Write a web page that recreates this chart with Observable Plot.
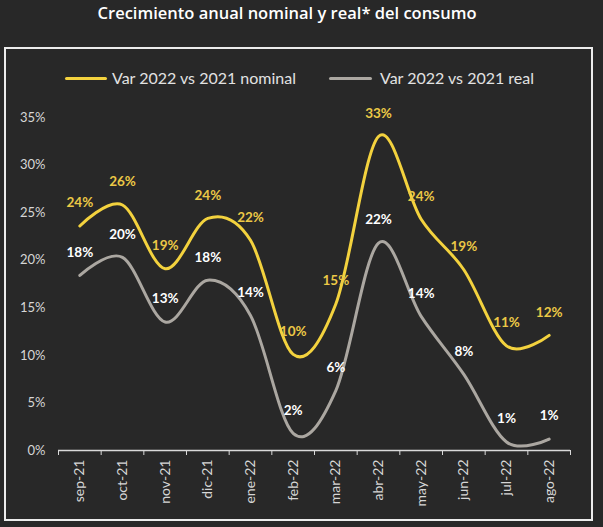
<!DOCTYPE html>
<html>
<head>
<meta charset="utf-8">
<script src="https://cdn.jsdelivr.net/npm/d3@7"></script>
<script src="https://cdn.jsdelivr.net/npm/@observablehq/plot@0.6"></script>
<style>
  html, body { margin: 0; padding: 0; background: #282828; width: 603px; height: 527px; overflow: hidden; }
  #title { position: absolute; left: 0; width: 574px; top: 1px; text-align: center; color: #ffffff;
           font-family: "Open Sans", sans-serif; font-weight: 600; font-size: 16.5px; }
  #frame { position: absolute; left: 4px; top: 47px; width: 585px; height: 470px; border: 2px solid #ececec; }
  .sw { position: absolute; height: 3px; border-radius: 2px; top: 77px; }
  .lt { position: absolute; top: 68px; font-family: Lato, sans-serif; font-size: 16px; color: #e2e2e2; white-space: nowrap; }
  #chart { position: absolute; left: 0; top: 95px; }
</style>
</head>
<body>
<div id="title">Crecimiento anual nominal y real* del consumo</div>
<div id="frame"></div>
<div class="sw" style="left:65px;width:42px;background:#f3d23e"></div>
<div class="lt" style="left:112px">Var 2022 vs 2021 nominal</div>
<div class="sw" style="left:329px;width:43px;background:#aba7a1"></div>
<div class="lt" style="left:380px">Var 2022 vs 2021 real</div>
<div id="chart"></div>
<script>
const months = ["sep-21","oct-21","nov-21","dic-21","ene-22","feb-22","mar-22","abr-22","may-22","jun-22","jul-22","ago-22"];
const nominal = [23.6, 25.8, 19.1, 24.4, 22.1, 10.1, 15.4, 33.0, 24.3, 19.0, 11.0, 12.1];
const real = [18.4, 20.3, 13.5, 17.9, 14.2, 1.8, 6.3, 21.8, 14.1, 8.0, 0.9, 1.2];
const nominalLabels = ["24%","26%","19%","24%","22%","10%","15%","33%","24%","19%","11%","12%"];
const realLabels = ["18%","20%","13%","18%","14%","2%","6%","22%","14%","8%","1%","1%"];
const yTicks = [0, 5, 10, 15, 20, 25, 30, 35];

const data = months.map((m, i) => ({i, m, nominal: nominal[i], real: real[i], nl: nominalLabels[i], rl: realLabels[i]}));
const idx = d3.range(months.length);
const bounds = d3.range(-0.5, months.length, 1);

const chart = Plot.plot({
  width: 603, height: 430,
  marginTop: 22, marginBottom: 75, marginLeft: 58, marginRight: 33,
  style: {background: "transparent", color: "#d9d9d9", fontFamily: "Lato, sans-serif", fontSize: "13px"},
  x: {type: "linear", domain: [-0.5, months.length - 0.5]},
  y: {domain: [0, 35]},
  marks: [
    Plot.axisY(yTicks, {tickSize: 0, tickPadding: 13, tickFormat: d => d + "%", fontSize: 13, fill: "#d6d6d6", label: null}),
    Plot.ruleY([0], {stroke: "#d9d9d9", strokeWidth: 1.5}),
    Plot.axisX(bounds, {tickSize: 5, tickFormat: () => "", stroke: "#d9d9d9", label: null}),
    Plot.axisX(idx, {tickSize: 0, tickPadding: 9, tickRotate: -90, tickFormat: i => months[i], fontSize: 14, fill: "#d6d6d6", label: null}),
    Plot.line(data, {x: "i", y: "real", curve: "cardinal", stroke: "#aba7a1", strokeWidth: 3}),
    Plot.line(data, {x: "i", y: "nominal", curve: "cardinal", stroke: "#f3d23e", strokeWidth: 3}),
    Plot.text(data, {x: "i", y: "real", text: "rl", dy: -23, fill: "#ffffff", fontWeight: "bold", fontSize: 13.5}),
    Plot.text(data, {x: "i", y: "nominal", text: "nl", dy: -23, fill: "#ecc846", fontWeight: "bold", fontSize: 13.5})
  ]
});
document.getElementById("chart").appendChild(chart);
</script>
</body>
</html>
